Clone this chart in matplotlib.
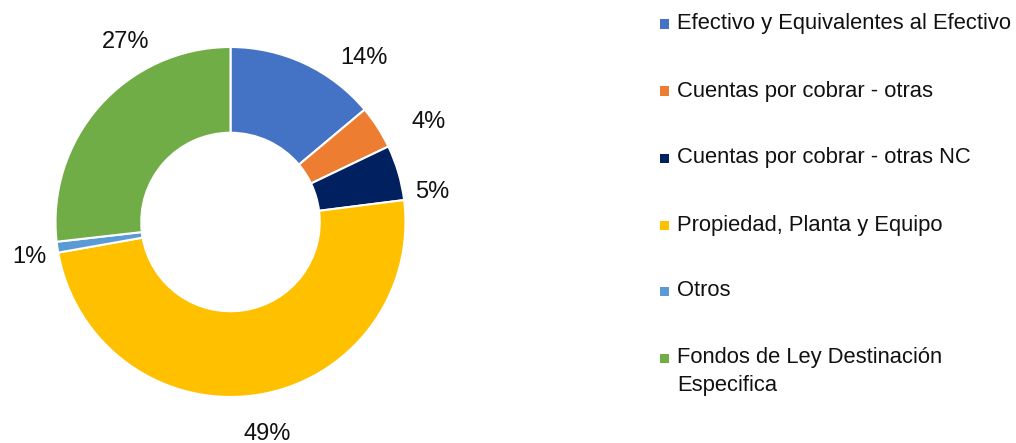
import matplotlib
matplotlib.use("Agg")
import matplotlib.pyplot as plt
from matplotlib.patches import Rectangle

plt.rcParams['font.family'] = ['Liberation Sans', 'DejaVu Sans']

categories = [
    "Efectivo y Equivalentes al Efectivo",
    "Cuentas por cobrar - otras",
    "Cuentas por cobrar - otras NC",
    "Propiedad, Planta y Equipo",
    "Otros",
    "Fondos de Ley Destinación\nEspecifica",
]
values = [13.9, 4.0, 5.1, 49.2, 1.0, 26.8]
colors = ["#4472C4", "#ED7D31", "#002060", "#FFC000", "#5B9BD5", "#70AD47"]

# label positions (in units of outer radius), mimicking the best-fit placement
label_pos = [(0.76, 0.94), (1.13, 0.57), (1.15, 0.17), (0.21, -1.21), (-1.15, -0.20), (-0.60, 1.03)]

W, H = 1016, 443
fig = plt.figure(figsize=(W / 100, H / 100), dpi=100)

cx, cy, R = 230.5, 222, 175
L = 1.3
side = 2 * L * R
ax = fig.add_axes([(cx - side / 2) / W, (H - cy - side / 2) / H, side / W, side / H])

wedges, texts, autotexts = ax.pie(
    values, colors=colors, startangle=90, counterclock=False,
    wedgeprops=dict(width=0.49, edgecolor="white", linewidth=1.5),
    autopct=lambda p: f"{p:.0f}%", pctdistance=1.2,
    textprops=dict(fontsize=17, color="#111111"),
)
for t, (x, y) in zip(autotexts, label_pos):
    t.set_position((x, y))
    t.set_ha("center")
    t.set_va("center")
ax.set_xlim(-L, L)
ax.set_ylim(-L, L)
ax.set_aspect("equal")
ax.axis("off")

# legend (manual, to mirror the layout)
leg_x_marker = 660
leg_x_text = 677
leg_y = [24, 91, 158, 225, 291, 358]
fs_leg = 15.8
for c, lab, y in zip(colors, categories, leg_y):
    fig.patches.append(Rectangle(((leg_x_marker) / W, (H - y - 4.5) / H), 9 / W, 9 / H,
                                 transform=fig.transFigure, facecolor=c, edgecolor="none"))
    lines = lab.split("\n")
    for k, line in enumerate(lines):
        fig.text(leg_x_text / W, (H - y - 27 * k) / H, line, fontsize=fs_leg,
                 color="#111111", ha="left", va="center")

fig.savefig("out.png", dpi=100)
